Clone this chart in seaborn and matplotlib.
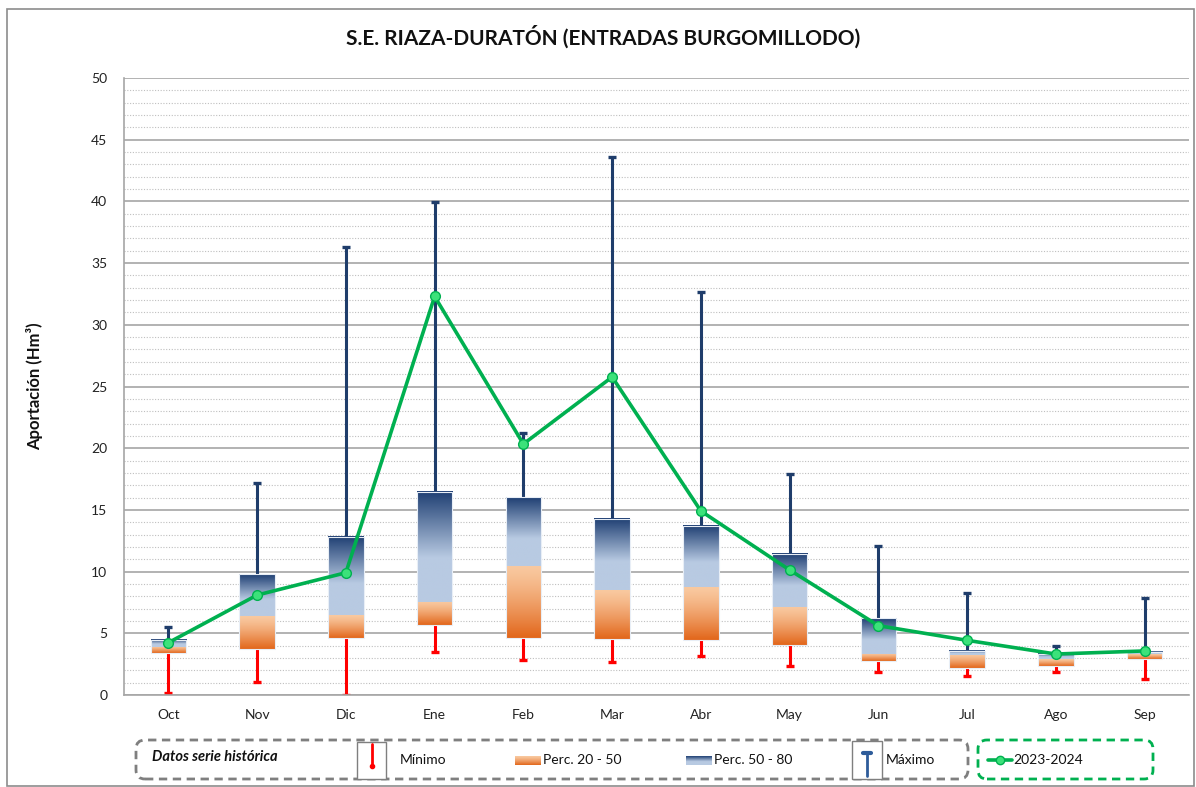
import numpy as np
import pandas as pd
import matplotlib
matplotlib.use("Agg")
import matplotlib.pyplot as plt
import seaborn as sns
from matplotlib.patches import FancyBboxPatch, Rectangle
from matplotlib.colors import to_rgb
from matplotlib.lines import Line2D

# ---------------- data ----------------
months = ["Oct", "Nov", "Dic", "Ene", "Feb", "Mar", "Abr", "May", "Jun", "Jul", "Ago", "Sep"]
minimo = [0.15, 1.05, 0.0, 3.48, 2.84, 2.70, 3.16, 2.38, 1.89, 1.57, 1.84, 1.30]
perc20 = [3.38, 3.75, 4.65, 5.65, 4.62, 4.51, 4.43, 4.03, 2.75, 2.16, 2.38, 2.92]
perc50 = [3.90, 6.40, 6.48, 7.56, 10.48, 8.51, 8.72, 7.13, 3.32, 3.24, 2.89, 3.30]
perc80 = [4.48, 9.80, 12.83, 16.48, 16.05, 14.29, 13.72, 11.43, 6.21, 3.57, 3.32, 3.48]
maximo = [5.50, 17.15, 36.30, 39.95, 21.26, 43.60, 32.66, 17.91, 12.07, 8.24, 3.94, 7.89]
serie_2023_2024 = [4.24, 8.10, 9.91, 32.30, 20.34, 25.77, 14.91, 10.13, 5.62, 4.43, 3.32, 3.57]

title = "S.E. RIAZA-DURATÓN (ENTRADAS BURGOMILLODO)"
ylabel = "Aportación (Hm³)"

# ---------------- style ----------------
sns.set_theme(style="white")
plt.rcParams["font.family"] = ["Lato", "DejaVu Sans"]

W, H = 1196, 787
fig = plt.figure(figsize=(W / 100, H / 100), dpi=100)
ax = fig.add_axes([124 / W, 1 - 695 / H, (1189 - 124) / W, (695 - 78) / H])

x = np.arange(len(months))
bw = 0.40

NAVY = "#1F3D6B"
RED = "#FF0000"
GREEN = "#00B050"


def grad_img(top, bottom, n=128, power=1.0):
    t = np.linspace(0, 1, n) ** power
    c0 = np.array(to_rgb(top))
    c1 = np.array(to_rgb(bottom))
    img = c0[None, :] * (1 - t[:, None]) + c1[None, :] * t[:, None]
    return img[:, None, :]


def blue_img(n=128):
    t = np.linspace(0, 1, n)
    t = np.clip(t / 0.6, 0, 1)
    c0 = np.array(to_rgb("#1F3F73"))
    c1 = np.array(to_rgb("#B8CAE2"))
    img = c0[None, :] * (1 - t[:, None]) + c1[None, :] * t[:, None]
    return img[:, None, :]


orange_grad = grad_img("#F9C9A0", "#E2661A", power=1.3)
blue_grad = blue_img()

# grid
ax.set_ylim(0, 50)
ax.set_xlim(-0.5, len(months) - 0.5)
ax.set_yticks(np.arange(0, 51, 5))
ax.set_yticks(np.arange(0, 51, 1), minor=True)
ax.yaxis.grid(True, which="major", color="#A6A6A6", lw=1.2, zorder=0)
ax.yaxis.grid(True, which="minor", color="#BFBFBF", lw=0.8, ls=(0, (1, 1.5)), zorder=0)
ax.set_axisbelow(True)

# whiskers (min)
for xi, lo, mn in zip(x, perc20, minimo):
    ax.plot([xi, xi], [mn, lo], color=RED, lw=2.2, zorder=2, solid_capstyle="butt")
    ax.plot([xi - 0.045, xi + 0.045], [mn, mn], color=RED, lw=2.4, zorder=2,
            solid_capstyle="butt")
# whiskers (max)
for xi, hi, mx in zip(x, perc80, maximo):
    ax.plot([xi, xi], [hi, mx], color=NAVY, lw=2.2, zorder=2, solid_capstyle="butt")
    ax.plot([xi - 0.045, xi + 0.045], [mx, mx], color=NAVY, lw=2.4, zorder=2,
            solid_capstyle="butt")

# gradient boxes
for xi, p20, p50, p80 in zip(x, perc20, perc50, perc80):
    ax.imshow(orange_grad, extent=[xi - bw / 2, xi + bw / 2, p20, p50],
              aspect="auto", origin="upper", zorder=3, interpolation="bilinear")
    ax.imshow(blue_grad, extent=[xi - bw / 2, xi + bw / 2, p50, p80],
              aspect="auto", origin="upper", zorder=3, interpolation="bilinear")
    ax.add_patch(Rectangle((xi - bw / 2, p20), bw, p80 - p20, fill=False,
                           ec="#E8EEF6", lw=0.8, zorder=3.5))

# 2023-2024 line
df = pd.DataFrame({"x": x, "v": serie_2023_2024})
sns.lineplot(data=df, x="x", y="v", ax=ax, color=GREEN, lw=2.6, marker="o",
             markersize=7, markerfacecolor="#3CE27A", markeredgecolor=GREEN,
             markeredgewidth=1.0, zorder=5, legend=False)

ax.set_ylim(0, 50)
ax.set_xlim(-0.5, len(months) - 0.5)
ax.set_aspect("auto")

# axes cosmetics
ax.set_xticks(x)
ax.set_xticklabels(months, fontsize=10, color="#222222")
ax.set_xticks(np.arange(-0.5, len(months), 1), minor=True)
ax.tick_params(axis="x", which="major", length=0, pad=10)
ax.tick_params(axis="x", which="minor", length=6, color="#A6A6A6", width=1.2, direction="out")
ax.tick_params(axis="y", which="major", length=6, color="#A6A6A6", width=1.2,
               direction="out", labelsize=10, labelcolor="#222222", pad=6)
ax.tick_params(axis="y", which="minor", length=0)
ax.set_xlabel("")
ax.set_ylabel(ylabel, fontsize=12, fontweight="bold", color="#111111")
ax.yaxis.set_label_coords((43 - 124) / (1189 - 124), 0.5)
for s in ["top", "right"]:
    ax.spines[s].set_visible(False)
for s in ["left", "bottom"]:
    ax.spines[s].set_color("#A6A6A6")
    ax.spines[s].set_linewidth(1.2)

fig.text(603 / W, 1 - 37 / H, title, ha="center", va="center", fontsize=15,
         fontweight="bold", color="#111111")

# ---------------- outer border ----------------
def px(xp, yp):
    return xp / 100, (H - yp) / 100

tr = fig.dpi_scale_trans
x0, y0 = px(7, 786)
fig.add_artist(Rectangle((x0, y0), (1194 - 7) / 100, (786 - 9) / 100, transform=tr,
                         fill=False, ec="#8C8C8C", lw=1.2))

# ---------------- legend ----------------
def rbox(xl, yt, xr, yb, color):
    xa, ya = px(xl, yb)
    fig.add_artist(FancyBboxPatch((xa, ya), (xr - xl) / 100, (yb - yt) / 100,
                                  boxstyle="round,pad=0,rounding_size=0.09",
                                  transform=tr, fill=False, ec=color, lw=2.0,
                                  ls=(0, (3, 2))))

rbox(136, 740, 968, 779, "#7F7F7F")
rbox(978, 740, 1153, 779, GREEN)

def ftext(xp, yp, s, **kw):
    fig.text(xp / W, 1 - yp / H, s, va="center", ha="left", **kw)

ftext(152, 757, "Datos serie histórica", fontsize=10.5, fontweight="bold",
      fontstyle="italic", color="#111111")

# Minimo icon
xa, ya = px(357, 779)
fig.add_artist(Rectangle((xa, ya), 0.29, 0.37, transform=tr, fill=True, fc="white",
                         ec="#7F7F7F", lw=1.0))
fig.add_artist(Line2D([3.72, 3.72], [(H - 744) / 100, (H - 766) / 100], transform=tr,
                      color=RED, lw=2.0))
fig.add_artist(Line2D([3.72], [(H - 766) / 100], transform=tr, color=RED,
                      marker="o", markersize=3))
ftext(400, 760, "Mínimo", fontsize=10, color="#111111")

# Perc patches
for xl, img, lab in [(515, orange_grad, "Perc. 20 - 50"), (686, blue_grad, "Perc. 50 - 80")]:
    iax = fig.add_axes([xl / W, 1 - 765 / H, 26 / W, 9 / H])
    iax.imshow(img, aspect="auto", origin="upper", interpolation="bilinear")
    iax.axis("off")
    ftext(xl + 28, 760, lab, fontsize=10, color="#111111")

# Maximo icon
xa, ya = px(852, 779)
fig.add_artist(Rectangle((xa, ya), 0.30, 0.38, transform=tr, fill=True, fc="white",
                         ec="#7F7F7F", lw=1.0))
fig.add_artist(Line2D([8.67, 8.67], [(H - 753) / 100, (H - 776) / 100], transform=tr,
                      color="#2E5C9A", lw=2.0))
fig.add_artist(Line2D([8.63, 8.71], [(H - 753) / 100, (H - 753) / 100], transform=tr,
                      color="#2E5C9A", lw=3.0))
ftext(886, 760, "Máximo", fontsize=10, color="#111111")

# 2023-2024 legend
fig.add_artist(Line2D([9.88, 10.12], [(H - 760) / 100] * 2, transform=tr, color=GREEN, lw=2.6))
fig.add_artist(Line2D([10.0], [(H - 760) / 100], transform=tr, color=GREEN, marker="o",
                      markersize=6, markerfacecolor="#3CE27A", markeredgecolor=GREEN))
ftext(1013, 760, "2023-2024", fontsize=10, color="#111111")

fig.savefig("out.png", dpi=100)
